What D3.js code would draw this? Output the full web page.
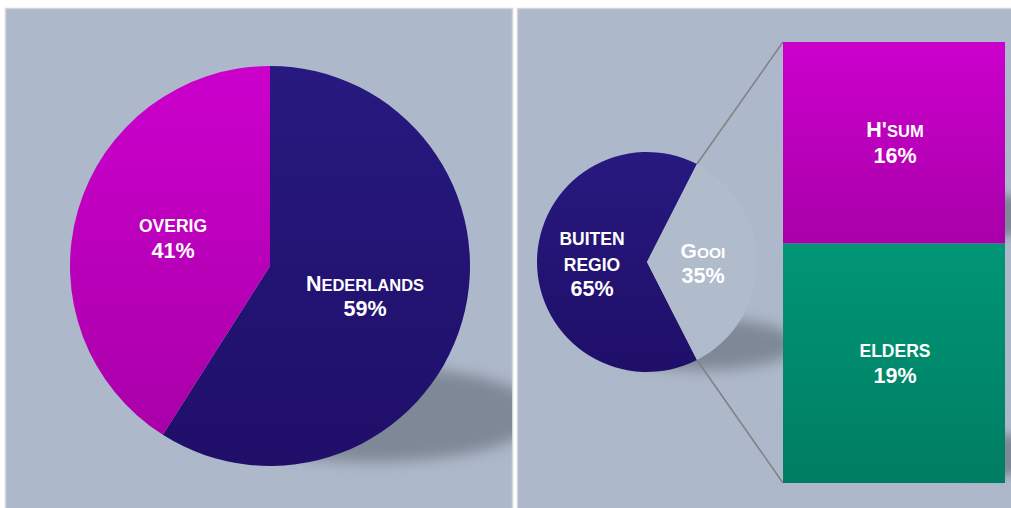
<!DOCTYPE html>
<html>
<head>
<meta charset="utf-8">
<script src="https://cdn.jsdelivr.net/npm/d3@7"></script>
<style>
  body { margin: 0; background: #fff; }
  svg text { font-family: "Liberation Sans", Arial, sans-serif; font-weight: bold; fill: #fff; }
</style>
</head>
<body>
<script>
const width = 1011, height = 508;

// data
const leftCats = ["Nederlands", "Overig"];
const leftVals = [59, 41];
const rightCats = ["Buiten regio", "Gooi"];
const rightVals = [65, 35];
const barCats = ["H'sum", "Elders"];
const barVals = [16, 19];

// label text per category (small caps split: [big, small])
const labelParts = {
    "Nederlands": [["N", "EDERLANDS"]],
    "Overig": [["OVERIG", ""]],
    "Buiten regio": [["BUITEN", ""], ["REGIO", ""]],
    "Gooi": [["G", "OOI"]],
    "H'sum": [["H'", "SUM"]],
    "Elders": [["ELDERS", ""]]
};

const svg = d3.select("body").append("svg")
    .attr("width", width)
    .attr("height", height);

const defs = svg.append("defs");
function grad(id, top, bottom) {
    const g = defs.append("linearGradient").attr("id", id)
        .attr("x1", 0).attr("y1", 0).attr("x2", 0).attr("y2", 1);
    g.append("stop").attr("offset", "0%").attr("stop-color", top);
    g.append("stop").attr("offset", "100%").attr("stop-color", bottom);
}
grad("gNavy", "#27197f", "#1f0f69");
grad("gMag", "#cc00cc", "#a900a9");
grad("gTeal", "#009676", "#007d63");

defs.append("filter").attr("id", "blur").attr("x", "-50%").attr("y", "-50%")
    .attr("width", "200%").attr("height", "200%")
    .append("feGaussianBlur").attr("stdDeviation", 7);
defs.append("filter").attr("id", "blur2").attr("x", "-50%").attr("y", "-50%")
    .attr("width", "200%").attr("height", "200%")
    .append("feGaussianBlur").attr("stdDeviation", 5);

defs.append("clipPath").attr("id", "clipL").append("rect")
    .attr("x", 6).attr("y", 9).attr("width", 506).attr("height", 499);
defs.append("clipPath").attr("id", "clipR").append("rect")
    .attr("x", 518).attr("y", 9).attr("width", 493).attr("height", 499);

const colors = {
    "Nederlands": "url(#gNavy)", "Overig": "url(#gMag)",
    "Buiten regio": "url(#gNavy)", "Gooi": "#b0bbcc",
    "H'sum": "url(#gMag)", "Elders": "url(#gTeal)"
};

// panels
svg.append("rect").attr("x", 5.5).attr("y", 8.5).attr("width", 507).attr("height", 505)
    .attr("fill", "#adb8ca").attr("stroke", "#d2d6dc").attr("stroke-width", 1.5);
svg.append("rect").attr("x", 517.5).attr("y", 8.5).attr("width", 500).attr("height", 505)
    .attr("fill", "#adb8ca").attr("stroke", "#d2d6dc").attr("stroke-width", 1.5);

function addLabel(cat, value, x, y, big, small) {
    const t = svg.append("text").attr("text-anchor", "middle");
    const lines = labelParts[cat];
    lines.forEach((p, i) => {
        const ts = t.append("tspan").attr("x", x).attr("y", y + i * 25.5);
        ts.append("tspan").style("font-size", big + "px").text(p[0]);
        if (p[1]) ts.append("tspan").style("font-size", small + "px").text(p[1]);
    });
    t.append("tspan").attr("x", x).attr("y", y + lines.length * 25.5)
        .style("font-size", "21.5px").text(value + "%");
}

// ---------- left pie ----------
const left = svg.append("g").attr("clip-path", "url(#clipL)");
const lcx = 270, lcy = 266, lr = 200;
left.append("ellipse").attr("cx", 372).attr("cy", 414).attr("rx", 168).attr("ry", 48)
    .attr("fill", "#7f8896").attr("filter", "url(#blur)");

const leftData = leftCats.map((c, i) => ({ cat: c, value: leftVals[i] }));
const pieL = d3.pie().sort(null).value(d => d.value);
const arcL = d3.arc().innerRadius(0).outerRadius(lr);
const lArcs = pieL(leftData);
const lg = left.append("g").attr("transform", `translate(${lcx},${lcy})`);
lg.selectAll("path").data(lArcs).enter().append("path")
    .attr("d", arcL)
    .attr("fill", d => colors[d.data.cat]);

// ---------- right pie of bar ----------
const right = svg.append("g").attr("clip-path", "url(#clipR)");
const rcx = 647, rcy = 262, rr = 110;
right.append("ellipse").attr("cx", 702).attr("cy", 344).attr("rx", 95).attr("ry", 26)
    .attr("fill", "#7f8896").attr("filter", "url(#blur)");

const gooiShare = rightVals[1] / d3.sum(rightVals);
const start = Math.PI / 2 + gooiShare * Math.PI;
const rightData = rightCats.map((c, i) => ({ cat: c, value: rightVals[i] }));
const pieR = d3.pie().sort(null).value(d => d.value)
    .startAngle(start).endAngle(start + 2 * Math.PI);
const arcR = d3.arc().innerRadius(0).outerRadius(rr);
const rArcs = pieR(rightData);

// bar
const barX0 = 783, barX1 = 1005;
const yBar = d3.scaleLinear().domain([0, d3.sum(barVals)]).range([42, 483]);

let acc = 0;
const barData = barCats.map((c, i) => {
    const d = { cat: c, value: barVals[i], y0: acc, y1: acc + barVals[i] };
    acc += barVals[i];
    return d;
});

// bar shadows (one per segment, near its lower edge)
right.selectAll("ellipse.bshadow").data(barData).enter().append("ellipse")
    .attr("class", "bshadow")
    .attr("cx", barX1 - 20)
    .attr("cy", d => yBar(d.y1) - 28)
    .attr("rx", 60).attr("ry", 22)
    .attr("fill", "#7f8896").attr("filter", "url(#blur2)");

// connectors
const gooiArc = rArcs[1];
const pt = a => [rcx + rr * Math.sin(a), rcy - rr * Math.cos(a)];
const pTop = pt(gooiArc.startAngle), pBot = pt(gooiArc.endAngle);
right.append("line").attr("x1", pTop[0]).attr("y1", pTop[1]).attr("x2", barX0).attr("y2", yBar(0))
    .attr("stroke", "#808080").attr("stroke-width", 1.5);
right.append("line").attr("x1", pBot[0]).attr("y1", pBot[1]).attr("x2", barX0).attr("y2", yBar.range()[1])
    .attr("stroke", "#808080").attr("stroke-width", 1.5);

const rg = right.append("g").attr("transform", `translate(${rcx},${rcy})`);
rg.selectAll("path").data(rArcs).enter().append("path")
    .attr("d", arcR)
    .attr("fill", d => colors[d.data.cat]);

right.selectAll("rect.bar").data(barData).enter().append("rect")
    .attr("class", "bar")
    .attr("x", barX0).attr("width", barX1 - barX0)
    .attr("y", d => yBar(d.y0))
    .attr("height", d => yBar(d.y1) - yBar(d.y0))
    .attr("fill", d => colors[d.cat]);

// labels
addLabel("Overig", leftVals[1], 173, 232, 17.5, 17.5);
addLabel("Nederlands", leftVals[0], 365, 290.5, 21.5, 16.5);
addLabel("Buiten regio", rightVals[0], 592, 245, 17.5, 17.5);
addLabel("Gooi", rightVals[1], 703, 257.5, 21, 15.5);
addLabel("H'sum", barVals[0], 895, 137, 21.5, 16.5);
addLabel("Elders", barVals[1], 895, 357, 17.5, 17.5);
</script>
</body>
</html>
